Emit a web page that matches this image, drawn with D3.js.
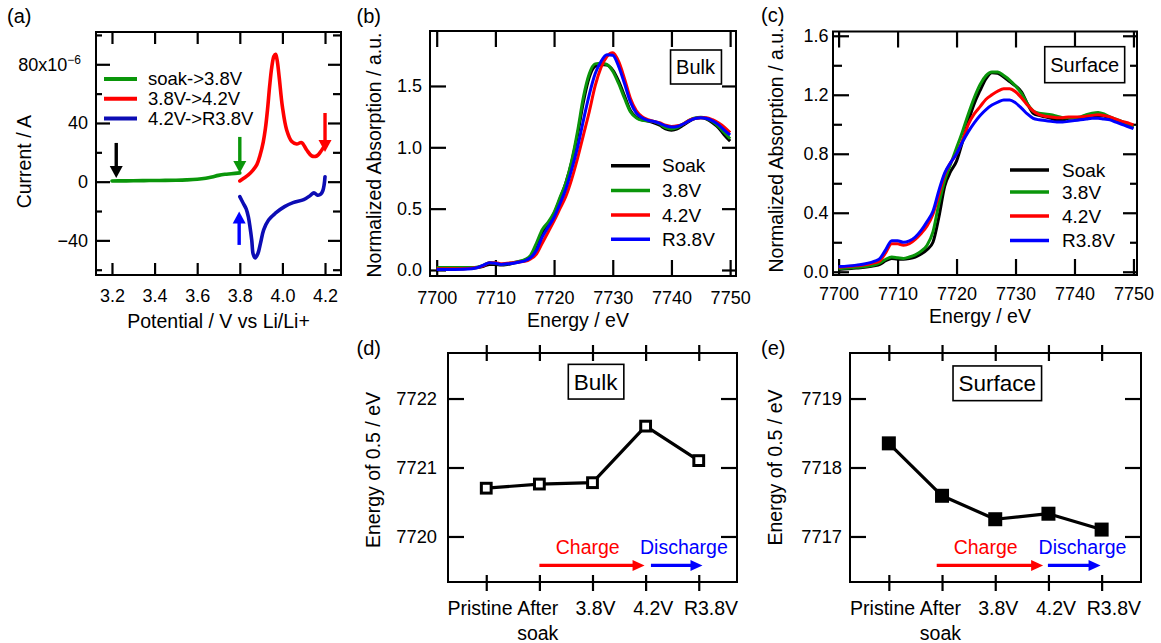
<!DOCTYPE html>
<html><head><meta charset="utf-8">
<script src="https://cdn.jsdelivr.net/npm/d3@7"></script>
<style>
body{margin:0;background:#fff;}
svg{font-family:"Liberation Sans",Arial,sans-serif;display:block;}
</style></head><body>
<svg id="c" width="1161" height="643"></svg>
<script>
// ---------------- DATA ----------------
// (a) cyclic voltammetry
const cvSoakV = [3.2, 3.25, 3.3, 3.35, 3.4, 3.45, 3.5, 3.55, 3.6, 3.64, 3.67, 3.7, 3.73, 3.76, 3.8];
const cvSoakI = [0.5, 0.55, 0.6, 0.7, 0.8, 0.9, 1.0, 1.2, 1.6, 2.3, 3.2, 4.3, 5.0, 5.4, 6.0];
const cvChargeV = [3.8, 3.82, 3.84, 3.86, 3.88, 3.895, 3.91, 3.92, 3.93, 3.94, 3.95, 3.96, 3.968, 3.975, 3.985, 4.0, 4.02, 4.044, 4.067, 4.09, 4.114, 4.138, 4.161, 4.185, 4.2];
const cvChargeI = [0.5, 2.5, 4.6, 7.5, 11.6, 18, 27, 36, 49, 65, 78, 85.5, 86.8, 83, 71, 51, 35.2, 27.3, 25.7, 26.6, 21.6, 17.5, 17.5, 21.6, 25];
const cvDischargeV = [4.2, 4.196, 4.19, 4.18, 4.165, 4.148, 4.13, 4.1, 4.05, 4.01, 3.967, 3.935, 3.912, 3.897, 3.885, 3.872, 3.863, 3.856, 3.848, 3.84, 3.83, 3.816, 3.8];
const cvDischargeI = [3.4, -2, -6, -8.5, -9.2, -7.6, -9.5, -12.3, -14.3, -17, -21.5, -26.1, -32.9, -42, -49, -52, -49.5, -39.7, -31, -23.9, -18.5, -14.7, -10.2];
const cvLegend = ["soak->3.8V", "3.8V->4.2V", "4.2V->R3.8V"];
const cvTicksX = [3.2, 3.4, 3.6, 3.8, 4.0, 4.2];
const cvTicksY = [-40, 0, 40, 80];
const cvMinorY = [-60, -20, 20, 60, 100];
const cvArrowV = [3.22, 3.8, 4.2, 3.797];
const cvArrowFrom = [26.4, 30.5, 46.8, -43.1];
const cvArrowTo = [2.5, 5.9, 20.2, -20.4];

// (b),(c) XANES
const xasEnergy = [7700, 7703, 7706, 7707, 7708, 7709, 7710, 7711, 7712, 7713, 7714, 7715, 7716, 7717, 7718, 7719, 7720, 7721, 7722, 7723, 7724, 7725, 7726, 7727, 7728, 7729, 7730, 7731, 7732, 7733, 7734, 7735, 7736, 7737, 7738, 7739, 7740, 7741, 7742, 7743, 7744, 7745, 7746, 7747, 7748, 7749, 7750];
const xasLegend = ["Soak", "3.8V", "4.2V", "R3.8V"];
const bulkSoak = [0.01,0.01,0.015, 0.02,0.03,0.045,0.045,0.04,0.045,0.055,0.065,0.08,0.1, 0.17,0.3,0.37,0.46,0.58,0.71,0.88,1.1,1.37,1.57, 1.66,1.675,1.67,1.63,1.54,1.42,1.3,1.245,1.225,1.215, 1.2,1.18,1.15,1.14,1.15,1.18,1.21,1.235,1.24,1.23, 1.2,1.16,1.1,1.05];
const bulk38 = [0.02,0.02,0.02, 0.025,0.04,0.06,0.055,0.045,0.05,0.06,0.07,0.085,0.12, 0.22,0.33,0.39,0.47,0.59,0.71,0.89,1.13,1.41,1.6, 1.68,1.685,1.675,1.62,1.52,1.4,1.29,1.24,1.22,1.215, 1.21,1.19,1.16,1.15,1.16,1.19,1.22,1.24,1.245,1.235, 1.21,1.17,1.12,1.07];
const bulk42 = [0.01,0.01,0.015, 0.02,0.035,0.06,0.06,0.05,0.055,0.06,0.065,0.07,0.09, 0.13,0.22,0.31,0.4,0.5,0.6,0.74,0.91,1.1,1.29, 1.5,1.65,1.74,1.77,1.7,1.56,1.4,1.3,1.25,1.225, 1.21,1.2,1.18,1.17,1.175,1.19,1.22,1.235,1.24,1.24, 1.225,1.2,1.165,1.12];
const bulkR38 = [0.005,0.005,0.01, 0.02,0.04,0.06,0.055,0.045,0.05,0.055,0.065,0.075,0.1, 0.16,0.27,0.35,0.43,0.54,0.66,0.82,1.0,1.22,1.43, 1.6,1.7,1.755,1.75,1.66,1.52,1.37,1.28,1.24,1.22, 1.21,1.195,1.175,1.165,1.17,1.19,1.215,1.235,1.24,1.235, 1.215,1.185,1.14,1.1];
const surfSoak = [0.015,0.025,0.04, 0.05,0.075,0.09,0.085,0.085,0.09,0.1,0.12,0.15,0.2, 0.37,0.58,0.68,0.75,0.88,1.02,1.14,1.23,1.31,1.35, 1.345,1.32,1.29,1.26,1.22,1.14,1.075,1.06,1.05,1.04, 1.03,1.03,1.04,1.045,1.045,1.05,1.055,1.06,1.055,1.04, 1.025,1.01,0.99,0.975];
const surf38 = [0.02,0.03,0.045, 0.06,0.085,0.1,0.095,0.09,0.1,0.115,0.14,0.18,0.27, 0.46,0.62,0.73,0.84,0.95,1.07,1.18,1.27,1.33,1.355, 1.355,1.33,1.3,1.26,1.21,1.14,1.09,1.075,1.07,1.065, 1.055,1.045,1.045,1.045,1.05,1.065,1.075,1.08,1.07,1.05, 1.035,1.02,1.0,0.985];
const surf42 = [0.03,0.04,0.06, 0.075,0.13,0.19,0.19,0.18,0.19,0.22,0.26,0.31,0.39, 0.52,0.66,0.74,0.8,0.89,1.0,1.07,1.12,1.17,1.2, 1.225,1.24,1.24,1.22,1.18,1.13,1.09,1.065,1.055,1.05, 1.045,1.045,1.05,1.05,1.05,1.055,1.06,1.065,1.06,1.05, 1.035,1.02,1.01,0.995];
const surfR38 = [0.035,0.045,0.07, 0.09,0.15,0.21,0.21,0.2,0.21,0.235,0.28,0.34,0.41, 0.55,0.67,0.74,0.8,0.88,0.95,1.01,1.06,1.1,1.13, 1.15,1.165,1.165,1.145,1.11,1.07,1.04,1.03,1.025,1.02, 1.015,1.015,1.02,1.025,1.03,1.035,1.04,1.04,1.035,1.03, 1.015,1.0,0.985,0.97];
const xasTicksX = [7700, 7710, 7720, 7730, 7740, 7750];
const bulkTicksY = [0.0, 0.5, 1.0, 1.5];
const surfTicksY = [0.0, 0.4, 0.8, 1.2, 1.6];
const surfMinorY = [0.2, 0.6, 1.0, 1.4];

// (d),(e) edge energy at 0.5
const stateLabels = ["Pristine", "After soak", "3.8V", "4.2V", "R3.8V"];
const bulkE05 = [7720.70, 7720.76, 7720.78, 7721.60, 7721.10];
const surfE05 = [7718.35, 7717.59, 7717.25, 7717.33, 7717.10];
const bulkTicksE = [7720, 7721, 7722];
const surfTicksE = [7717, 7718, 7719];
const arrowLabels = ["Charge", "Discharge"];
const bulkArrowIdx = [[1.0, 2.98], [3.1, 4.07]];
const surfArrowIdx = [[0.9, 2.9], [2.99, 3.98]];
const bulkArrowE = 7719.58, surfArrowE = 7716.58;
const bulkArrowTextIdx = [1.91, 3.72], surfArrowTextIdx = [1.82, 3.64];
const bulkArrowTextE = 7719.85, surfArrowTextE = 7716.85;

// ---------------- DRAWING ----------------
const svg = d3.select("#c");
const FONT = '"Liberation Sans", Arial, sans-serif';
const GREEN = "#0a960a", RED = "#ff0000", BLUE = "#0000ff", NAVY = "#0c0cb4";
const xasColors = ["#000000", GREEN, RED, BLUE];

function frame(x0, y0, x1, y1) {
  svg.append("rect").attr("x", x0).attr("y", y0).attr("width", x1 - x0).attr("height", y1 - y0)
    .attr("fill", "none").attr("stroke", "#000").attr("stroke-width", 2);
}
function axis(gen, tx, ty, fs) {
  const g = svg.append("g").attr("transform", `translate(${tx},${ty})`).call(gen);
  g.select(".domain").remove();
  g.selectAll(".tick line").attr("stroke", "#000").attr("stroke-width", 2.2);
  g.selectAll(".tick text").attr("font-size", fs || 18).attr("font-family", FONT).attr("fill", "#000");
  return g;
}
function text(x, y, s, opt) {
  opt = opt || {};
  const t = svg.append("text").attr("x", x).attr("y", y).text(s)
    .attr("font-size", opt.fs || 19.5).attr("font-family", FONT).attr("fill", opt.color || "#000")
    .attr("text-anchor", opt.anchor || "start");
  if (opt.rot) t.attr("transform", `rotate(-90,${x},${y})`);
  if (opt.dy) t.attr("dy", opt.dy);
  return t;
}
function boxLabel(cx, cy, s, fs, h) {
  const t = text(cx, cy, s, {fs: fs, anchor: "middle", dy: "0.36em"});
  const bb = t.node().getBBox();
  svg.append("rect").attr("x", bb.x - 5.5).attr("y", cy - h / 2).attr("width", bb.width + 11).attr("height", h)
    .attr("fill", "#fff").attr("stroke", "#000").attr("stroke-width", 1.6);
  t.raise();
}
function arrow(x1, y1, x2, y2, color, sw, hl, hw) {
  const dx = x2 - x1, dy = y2 - y1, L = Math.hypot(dx, dy);
  const ux = dx / L, uy = dy / L, px = -uy, py = ux;
  const bx = x2 - ux * hl, by = y2 - uy * hl;
  svg.append("line").attr("x1", x1).attr("y1", y1).attr("x2", bx + ux).attr("y2", by + uy)
    .attr("stroke", color).attr("stroke-width", sw);
  svg.append("path").attr("d", `M${x2},${y2}L${bx + px * hw / 2},${by + py * hw / 2}L${bx - px * hw / 2},${by - py * hw / 2}Z`)
    .attr("fill", color);
}

// ===== Panel (a) =====
const A = {x0: 96, x1: 341, y0: 32, y1: 275};
const xA = d3.scaleLinear([3.125, 4.275], [A.x0, A.x1]);
const yA = d3.scaleLinear([-63.6, 102], [A.y1, A.y0]);
const fmtNum = d => (d < 0 ? "\u2212" + Math.abs(d) : String(d));
axis(d3.axisBottom(xA).tickValues(cvTicksX).tickSizeInner(-12).tickSizeOuter(0).tickPadding(14).tickFormat(d3.format(".1f")), 0, A.y1);
axis(d3.axisTop(xA).tickValues(cvTicksX).tickSizeInner(-12).tickSizeOuter(0).tickFormat(""), 0, A.y0);
const gAy = axis(d3.axisLeft(yA).tickValues(cvTicksY).tickSizeInner(-14).tickSizeOuter(0).tickPadding(8).tickFormat(fmtNum), A.x0, 0);
gAy.selectAll(".tick text").filter(d => d === 80).each(function () {
  const t = d3.select(this);
  t.text("80x10").attr("x", -15);
  t.append("tspan").attr("dy", "-0.55em").attr("font-size", 12).text("\u22126");
});
axis(d3.axisLeft(yA).tickValues(cvMinorY).tickSizeInner(-6).tickSizeOuter(0).tickFormat(""), A.x0, 0);
axis(d3.axisRight(yA).tickValues(cvTicksY).tickSizeInner(-13).tickSizeOuter(0).tickFormat(""), A.x1, 0);
axis(d3.axisRight(yA).tickValues(cvMinorY).tickSizeInner(-8).tickSizeOuter(0).tickFormat(""), A.x1, 0);
frame(A.x0, A.y0, A.x1, A.y1);

const cvSeries = [[cvSoakV, cvSoakI, GREEN], [cvChargeV, cvChargeI, RED], [cvDischargeV, cvDischargeI, NAVY]];
cvSeries.forEach(([vs, is, col]) => {
  const line = d3.line().x((d, i) => xA(vs[i])).y(d => yA(d)).curve(d3.curveCatmullRom.alpha(0.5));
  svg.append("path").attr("d", line(is)).attr("fill", "none").attr("stroke", col)
    .attr("stroke-width", 3.6).attr("stroke-linejoin", "round").attr("stroke-linecap", "round");
});
const cvArrowColors = ["#000000", GREEN, RED, BLUE];
cvArrowV.forEach((v, i) => arrow(xA(v), yA(cvArrowFrom[i]), xA(v), yA(cvArrowTo[i]), cvArrowColors[i], 3.4, 12, 13));
// legend (a)
const cvLegCols = [GREEN, RED, NAVY];
cvLegend.forEach((s, i) => {
  const y = 79 + i * 19.7;
  svg.append("line").attr("x1", 104).attr("x2", 137).attr("y1", y).attr("y2", y)
    .attr("stroke", cvLegCols[i]).attr("stroke-width", 4);
  text(148, y, s, {fs: 18.5, dy: "0.35em"});
});
text(218.5, 327.5, "Potential / V vs Li/Li+", {fs: 19.5, anchor: "middle"});
text(31, 161.7, "Current / A", {fs: 19.5, anchor: "middle", rot: true});
text(7, 23, "(a)", {fs: 20});

// ===== Panels (b),(c) =====
function xasPanel(P, xs, ys, ticksY, minorY, fmtY, padL, padB, series, legendX, legendY, label, labelPos) {
  axis(d3.axisBottom(xs).tickValues(xasTicksX).tickSizeInner(-16).tickSizeOuter(0).tickPadding(padB).tickFormat(d3.format("d")), 0, P.y1);
  axis(d3.axisTop(xs).tickValues(xasTicksX).tickSizeInner(-16).tickSizeOuter(0).tickFormat(""), 0, P.y0);
  axis(d3.axisLeft(ys).tickValues(ticksY).tickSizeInner(-16).tickSizeOuter(0).tickPadding(padL).tickFormat(fmtY), P.x0, 0);
  axis(d3.axisRight(ys).tickValues(ticksY).tickSizeInner(-14).tickSizeOuter(0).tickFormat(""), P.x1, 0);
  if (minorY.length) {
    axis(d3.axisLeft(ys).tickValues(minorY).tickSizeInner(-9).tickSizeOuter(0).tickFormat(""), P.x0, 0);
    axis(d3.axisRight(ys).tickValues(minorY).tickSizeInner(-7).tickSizeOuter(0).tickFormat(""), P.x1, 0);
  }
  frame(P.x0, P.y0, P.x1, P.y1);
  const clipId = "clip" + label;
  svg.append("clipPath").attr("id", clipId).append("rect")
    .attr("x", P.x0).attr("y", P.y0).attr("width", P.x1 - P.x0).attr("height", P.y1 - P.y0);
  series.forEach((vals, k) => {
    const line = d3.line().x((d, i) => xs(xasEnergy[i])).y(d => ys(d)).curve(d3.curveMonotoneX);
    svg.append("path").attr("d", line(vals)).attr("fill", "none").attr("stroke", xasColors[k])
      .attr("stroke-width", 3).attr("stroke-linejoin", "round").attr("clip-path", `url(#${clipId})`);
  });
  xasLegend.forEach((s, k) => {
    const y = legendY[k];
    svg.append("line").attr("x1", legendX[0]).attr("x2", legendX[1]).attr("y1", y).attr("y2", y)
      .attr("stroke", xasColors[k]).attr("stroke-width", 3.4);
    text(legendX[2], y, s, {fs: 19, dy: "0.35em"});
  });
  boxLabel(labelPos[0], labelPos[1], label, 20, labelPos[2]);
}
const B = {x0: 430, x1: 736, y0: 31, y1: 276};
const xB = d3.scaleLinear([7698.86, 7751.0], [B.x0, B.x1]);
const yB = d3.scaleLinear([-0.049, 1.948], [B.y1, B.y0]);
xasPanel(B, xB, yB, bulkTicksY, [], d3.format(".1f"), 8, 15, [bulkSoak, bulk38, bulk42, bulkR38],
  [611, 650, 662], [165.7, 190.5, 215, 239.3], "Bulk", [695.5, 67, 34]);
text(578, 327, "Energy / eV", {fs: 19.5, anchor: "middle"});
text(381, 155, "Normalized Absorption / a.u.", {fs: 19.5, anchor: "middle", rot: true});
text(356.5, 23, "(b)", {fs: 20});

const C = {x0: 833, x1: 1137, y0: 31.5, y1: 275};
const xC = d3.scaleLinear([7699.05, 7750.6], [C.x0, C.x1]);
const yC = d3.scaleLinear([-0.022, 1.629], [C.y1, C.y0]);
xasPanel(C, xC, yC, surfTicksY, surfMinorY, d3.format(".1f"), 4.5, 12.5, [surfSoak, surf38, surf42, surfR38],
  [1010, 1049, 1062], [170, 192, 216, 240.5], "Surface", [1084.7, 64.7, 36]);
text(980, 323, "Energy / eV", {fs: 19.5, anchor: "middle"});
text(783, 150, "Normalized Absorption / a.u.", {fs: 19.5, anchor: "middle", rot: true});
text(761, 22, "(c)", {fs: 20});

// ===== Panels (d),(e) =====
function edgePanel(P, xs, ys, ticksE, vals, filled, padL, arrowIdx, arrowE, textIdx, textE, label, labelPos, ylabX, ylabY, tag, tagX) {
  const idx = d3.range(stateLabels.length);
  // category labels: spread slightly wider than the ticks, as in the reference
  const labX = i => xs(2) + (xs(i) - xs(2)) * 1.087 + 3;
  const gl = svg.append("g");
  idx.forEach(i => {
    const t = gl.append("text").attr("x", labX(i)).attr("y", 615).attr("text-anchor", "middle")
      .attr("font-size", 19.5).attr("font-family", FONT).attr("fill", "#000");
    stateLabels[i].split(" ").forEach((p, k) => t.append("tspan").attr("x", labX(i)).attr("dy", k === 0 ? 0 : 25).text(p));
  });
  axis(d3.axisBottom(xs).tickValues(idx).tickSizeInner(9).tickSizeOuter(0).tickFormat(""), 0, P.y1);
  axis(d3.axisBottom(xs).tickValues(idx).tickSizeInner(-7).tickSizeOuter(0).tickFormat(""), 0, P.y1);
  axis(d3.axisTop(xs).tickValues(idx).tickSizeInner(8).tickSizeOuter(0).tickFormat(""), 0, P.y0);
  axis(d3.axisTop(xs).tickValues(idx).tickSizeInner(-8).tickSizeOuter(0).tickFormat(""), 0, P.y0);
  axis(d3.axisLeft(ys).tickValues(ticksE).tickSizeInner(-16).tickSizeOuter(0).tickPadding(padL).tickFormat(d3.format("d")), P.x0, 0, 18.3);
  axis(d3.axisRight(ys).tickValues(ticksE).tickSizeInner(-16).tickSizeOuter(0).tickFormat(""), P.x1, 0);
  frame(P.x0, P.y0, P.x1, P.y1);
  const line = d3.line().x((d, i) => xs(i)).y(d => ys(d));
  svg.append("path").attr("d", line(vals)).attr("fill", "none").attr("stroke", "#000").attr("stroke-width", 3.2)
    .attr("stroke-linejoin", "round");
  const s = filled ? 14 : 9.8;
  svg.selectAll(null).data(vals).enter().append("rect")
    .attr("x", (d, i) => xs(i) - s / 2).attr("y", d => ys(d) - s / 2).attr("width", s).attr("height", s)
    .attr("fill", filled ? "#000" : "#fff").attr("stroke", filled ? "none" : "#000").attr("stroke-width", 3);
  const cols = [RED, BLUE];
  arrowIdx.forEach((a, k) => arrow(xs(a[0]), ys(arrowE), xs(a[1]), ys(arrowE), cols[k], 3.3, 12, 11));
  arrowLabels.forEach((t, k) => text(xs(textIdx[k]), ys(textE) + 7, t, {fs: 19.5, anchor: "middle", color: cols[k]}));
  boxLabel(labelPos[0], labelPos[1], label, 22.5, labelPos[2]);
  text(ylabX, ylabY, "Energy of 0.5 / eV", {fs: 19.5, anchor: "middle", rot: true});
  text(tagX, 355, tag, {fs: 20});
}
const D = {x0: 448, x1: 737, y0: 353, y1: 582};
const xD = d3.scaleLinear([-0.72, 4.72], [D.x0, D.x1]);
const yD = d3.scaleLinear([7719.34, 7722.66], [D.y1, D.y0]);
edgePanel(D, xD, yD, bulkTicksE, bulkE05, false, 11, bulkArrowIdx, bulkArrowE, bulkArrowTextIdx, bulkArrowTextE,
  "Bulk", [595.7, 381.7, 34.7], 380, 470, "(d)", 356.5);

const E = {x0: 850, x1: 1141, y0: 353, y1: 582};
const xE = d3.scaleLinear([-0.73, 4.74], [E.x0, E.x1]);
const yE = d3.scaleLinear([7716.34, 7719.66], [E.y1, E.y0]);
edgePanel(E, xE, yE, surfTicksE, surfE05, true, 8, surfArrowIdx, surfArrowE, surfArrowTextIdx, surfArrowTextE,
  "Surface", [997.3, 383.3, 34.7], 782, 467.5, "(e)", 761);
</script>
</body></html>
